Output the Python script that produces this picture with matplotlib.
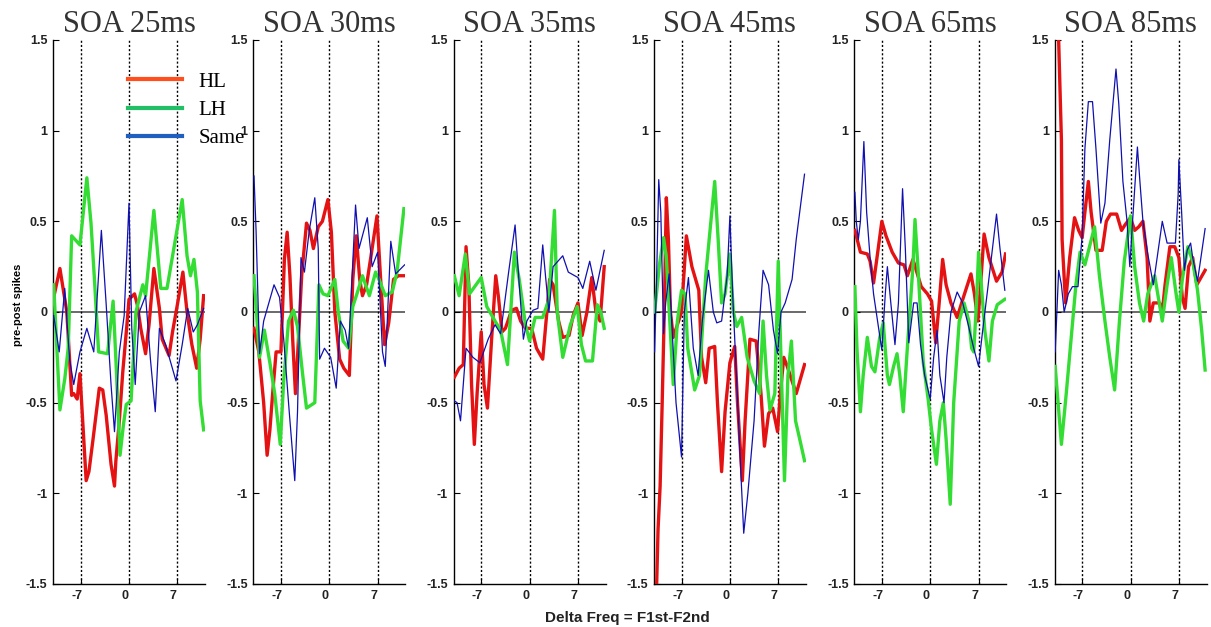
import matplotlib
matplotlib.use('Agg')
import matplotlib.pyplot as plt
import matplotlib.transforms as mtransforms
from matplotlib.lines import Line2D

# ---- data ----
soa_labels = ['SOA 25ms', 'SOA 30ms', 'SOA 35ms', 'SOA 45ms', 'SOA 65ms', 'SOA 85ms']
series_names = ['HL', 'LH', 'Same']
x_ticks = [-7, 0, 7]
y_ticks = [-1.5, -1, -0.5, 0, 0.5, 1, 1.5]
y_ticklabels = ['-1.5', '-1', '-0.5', '0', '0.5', '1', '1.5']
ref_lines = [-7, 0, 7]

# SOA 25ms
hl25_x = [-10.9, -10.0, -9.0, -8.3, -8.0, -7.5, -7.1, -6.2, -5.8, -5.2, -4.3, -3.8, -3.3, -2.6, -2.1,
          -1.9, -1.4, -0.9, -0.3, 0.0, 0.8, 1.2, 1.7, 2.4, 2.9, 3.6, 4.4, 4.8, 5.8, 6.3, 7.0, 7.8,
          8.4, 9.1, 9.8, 10.3, 10.8]
hl25_y = [0.08, 0.24, 0.0, -0.46, -0.45, -0.48, -0.34, -0.93, -0.88, -0.70, -0.42, -0.43, -0.57, -0.84,
          -0.96, -0.82, -0.60, -0.33, -0.07, 0.07, 0.10, 0.04, -0.09, -0.23, -0.07, 0.24, 0.02, -0.15,
          -0.24, -0.11, 0.04, 0.22, 0.0, -0.18, -0.31, -0.15, 0.09]
lh25_x = [-10.9, -10.0, -9.3, -8.8, -8.3, -7.1, -6.1, -5.5, -5.0, -4.4, -3.1, -2.3, -1.9, -1.3, -0.8,
          -0.4, 0.3, 1.0, 2.0, 2.4, 3.6, 4.6, 5.5, 7.7, 8.4, 8.9, 9.4, 9.9, 10.3, 10.8]
lh25_y = [0.15, -0.54, -0.37, -0.20, 0.42, 0.37, 0.74, 0.49, 0.18, -0.22, -0.23, 0.06, -0.26, -0.79,
          -0.62, -0.51, -0.49, 0.0, 0.15, 0.09, 0.56, 0.13, 0.13, 0.62, 0.31, 0.20, 0.29, 0.11, -0.49, -0.65]
same25_x = [-10.9, -10.1, -9.3, -8.6, -8.0, -7.1, -6.1, -5.1, -4.0, -3.3, -2.6, -2.1, -1.4, -0.7, 0.0,
            0.4, 0.9, 1.5, 2.4, 3.1, 3.8, 4.4, 5.3, 6.8, 7.7, 8.5, 9.3, 9.9, 10.8]
same25_y = [-0.02, -0.22, 0.13, -0.26, -0.40, -0.22, -0.09, -0.22, 0.45, 0.04, -0.40, -0.66, -0.22, -0.02,
            0.60, -0.09, -0.40, 0.0, 0.09, -0.26, -0.55, -0.09, -0.18, -0.38, -0.18, 0.02, -0.11, -0.07, 0.02]

# SOA 30ms
hl30_x = [-10.9, -10.2, -9.5, -9.0, -8.6, -8.2, -7.7, -7.0, -6.5, -6.1, -5.7, -5.3, -4.9, -4.6, -4.0,
          -3.3, -2.8, -2.3, -1.6, -1.0, -0.2, 0.3, 0.8, 1.5, 2.1, 2.9, 3.4, 3.9, 4.4, 4.8, 5.4, 6.0,
          6.9, 7.4, 8.0, 8.6, 9.3, 10.0, 10.9]
hl30_y = [-0.09, -0.22, -0.50, -0.79, -0.65, -0.45, -0.22, -0.22, 0.29, 0.44, 0.20, -0.15, -0.45, -0.25,
          0.20, 0.49, 0.45, 0.35, 0.47, 0.50, 0.62, 0.44, 0.0, -0.26, -0.31, -0.35, 0.18, 0.42, 0.18,
          0.09, 0.15, 0.30, 0.53, 0.20, -0.18, -0.06, 0.18, 0.20, 0.20]
lh30_x = [-10.9, -10.1, -9.4, -8.6, -7.9, -7.1, -6.6, -5.9, -5.2, -4.6, -3.9, -3.3, -2.1, -1.5, -0.9,
          -0.2, 0.8, 1.3, 2.0, 2.8, 3.4, 4.0, 4.8, 5.8, 6.7, 7.2, 8.1, 9.1, 9.8, 10.8]
lh30_y = [0.20, -0.25, -0.10, -0.28, -0.45, -0.73, -0.38, -0.05, 0.01, -0.08, -0.33, -0.53, -0.50, 0.15,
          0.10, 0.09, 0.18, 0.0, -0.16, -0.20, 0.03, 0.10, 0.20, 0.09, 0.22, 0.18, 0.09, 0.11, 0.22, 0.57]
same30_x = [-10.9, -10.6, -10.1, -9.5, -8.0, -7.2, -6.6, -5.8, -5.0, -4.6, -4.1, -3.6, -2.9, -2.1, -1.6,
            -1.4, -0.7, 0.2, 1.0, 1.6, 2.3, 2.8, 3.8, 4.3, 5.5, 6.2, 7.0, 7.7, 8.1, 8.9, 9.6, 10.9]
same30_y = [0.75, 0.45, -0.23, -0.05, 0.15, 0.08, -0.15, -0.55, -0.93, -0.55, 0.30, 0.22, 0.45, 0.63, 0.35,
            -0.26, -0.20, -0.25, -0.42, -0.05, -0.10, -0.20, 0.59, 0.35, 0.52, 0.25, 0.33, -0.22, -0.30,
            0.39, 0.21, 0.26]

# SOA 35ms
hl35_x = [-10.9, -10.2, -9.6, -9.2, -8.8, -8.4, -8.0, -7.6, -7.0, -6.6, -6.1, -5.5, -4.9, -4.5, -4.0,
          -3.5, -2.6, -1.9, -1.3, -0.6, 0.3, 1.0, 1.9, 2.5, 2.9, 3.4, 4.2, 4.8, 5.7, 6.3, 7.0, 7.6,
          8.3, 9.0, 9.6, 10.2, 10.8]
hl35_y = [-0.36, -0.31, -0.29, 0.36, 0.15, -0.40, -0.73, -0.45, -0.11, -0.40, -0.53, -0.15, 0.20, 0.08,
          -0.11, -0.09, 0.01, 0.02, -0.05, -0.09, -0.09, -0.20, -0.26, 0.0, 0.18, 0.15, -0.05, -0.14,
          -0.13, -0.02, 0.05, -0.13, 0.0, 0.19, 0.0, -0.05, 0.25]
lh35_x = [-10.9, -10.2, -9.3, -8.7, -7.0, -6.2, -5.0, -4.2, -3.2, -2.2, -1.5, -0.6, 0.0, 0.8, 1.9, 2.8,
          3.6, 4.0, 4.8, 5.9, 6.9, 7.5, 8.1, 9.1, 9.8, 10.3, 10.8]
lh35_y = [0.20, 0.09, 0.32, 0.10, 0.19, 0.03, -0.05, -0.10, -0.29, 0.33, 0.18, -0.07, -0.16, -0.03,
          -0.03, 0.07, 0.56, 0.0, -0.25, -0.07, 0.03, -0.18, -0.27, -0.27, 0.04, 0.0, -0.09]
same35_x = [-10.9, -10.5, -10.0, -9.2, -8.2, -7.2, -6.0, -5.0, -4.2, -3.0, -2.1, -1.5, -0.9, -0.4, 0.5,
            1.2, 1.9, 2.3, 2.8, 3.4, 4.8, 5.6, 7.0, 7.7, 8.7, 9.6, 10.8]
same35_y = [-0.49, -0.50, -0.60, -0.20, -0.25, -0.28, -0.15, -0.07, -0.12, 0.23, 0.48, 0.15, -0.15, -0.05,
            0.01, 0.02, 0.37, 0.20, 0.0, 0.25, 0.31, 0.22, 0.19, 0.13, 0.28, 0.12, 0.34]

# SOA 45ms
hl45_x = [-10.6, -10.4, -10.1, -9.8, -9.5, -9.2, -8.9, -8.6, -8.2, -7.0, -6.3, -5.5, -4.5, -4.1, -3.5,
          -3.0, -2.2, -1.8, -1.2, -0.7, 0.0, 0.7, 1.1, 1.8, 2.2, 2.9, 3.8, 4.5, 5.0, 5.6, 6.2, 6.9,
          7.3, 7.8, 8.3, 9.6, 10.8]
hl45_y = [-1.5, -1.2, -0.96, -0.50, 0.0, 0.63, 0.40, 0.0, -0.14, 0.0, 0.42, 0.25, 0.12, -0.25, -0.39,
          -0.20, -0.19, -0.50, -0.88, -0.55, -0.28, -0.19, -0.50, -0.93, -0.60, -0.15, -0.16, -0.45,
          -0.74, -0.56, -0.53, -0.66, -0.45, -0.25, -0.30, -0.45, -0.29]
lh45_x = [-10.9, -10.2, -9.6, -9.2, -8.7, -8.2, -7.6, -7.0, -6.5, -6.1, -5.1, -4.4, -3.5, -2.2, -1.7,
          -1.2, -0.7, 0.0, 0.5, 1.0, 1.7, 2.5, 3.5, 4.3, 4.8, 5.3, 5.8, 6.5, 7.0, 7.5, 7.9, 8.4, 8.9,
          9.5, 10.1, 10.8]
lh45_y = [0.0, 0.26, 0.41, 0.30, -0.05, -0.40, -0.05, 0.12, 0.10, -0.20, -0.43, -0.35, 0.20, 0.72, 0.40,
          0.05, 0.10, 0.32, 0.0, -0.08, -0.03, -0.25, -0.38, -0.45, -0.05, -0.35, -0.54, -0.45, 0.28,
          -0.40, -0.93, -0.35, -0.16, -0.60, -0.70, -0.82]
same45_x = [-10.9, -10.6, -10.3, -10.0, -9.6, -9.3, -8.8, -8.5, -7.8, -7.0, -6.6, -6.0, -5.3, -4.6, -4.0,
            -3.1, -2.4, -1.9, -1.2, -0.4, 0.0, 0.4, 1.0, 1.6, 2.0, 2.6, 3.5, 4.2, 4.8, 5.6, 6.3, 6.9,
            7.4, 8.0, 9.0, 9.6, 10.8]
same45_y = [-0.22, 0.20, 0.73, 0.55, -0.12, 0.05, 0.21, 0.0, -0.50, -0.80, 0.0, 0.19, -0.20, -0.35, -0.05,
            0.23, 0.0, -0.06, -0.05, 0.20, 0.53, 0.10, -0.40, -0.90, -1.22, -1.0, -0.60, -0.10, 0.23,
            0.15, -0.10, -0.23, 0.0, 0.05, 0.18, 0.40, 0.76]

# SOA 65ms
hl65_x = [-10.9, -10.1, -9.1, -8.7, -8.2, -7.7, -7.0, -6.4, -5.5, -4.6, -3.8, -3.3, -2.5, -2.1, -1.3,
          -0.4, 0.2, 0.8, 1.3, 1.8, 2.3, 3.0, 3.9, 4.8, 5.9, 6.4, 6.9, 7.2, 7.8, 8.5, 9.6, 10.4, 10.9]
hl65_y = [0.45, 0.33, 0.32, 0.28, 0.16, 0.30, 0.50, 0.42, 0.33, 0.27, 0.26, 0.20, 0.29, 0.24, 0.14, 0.10,
          0.06, -0.17, 0.05, 0.29, 0.15, 0.05, -0.03, 0.08, 0.21, 0.10, -0.05, 0.10, 0.43, 0.30, 0.17,
          0.22, 0.32]
lh65_x = [-10.9, -10.6, -10.1, -9.7, -9.1, -8.5, -8.0, -7.3, -6.8, -6.2, -5.9, -5.3, -4.8, -4.4, -3.9,
          -3.4, -2.5, -2.2, -1.7, -1.0, -0.3, 0.2, 0.9, 1.4, 1.9, 2.3, 2.9, 3.4, 4.2, 4.9, 5.6, 6.0,
          6.3, 6.7, 7.0, 7.4, 7.9, 8.5, 9.0, 9.7, 10.8]
lh65_y = [0.14, -0.20, -0.55, -0.35, -0.14, -0.30, -0.33, -0.14, -0.06, -0.35, -0.40, -0.30, -0.23, -0.35,
          -0.55, -0.25, 0.25, 0.51, 0.20, -0.28, -0.48, -0.65, -0.84, -0.60, -0.50, -0.70, -1.06, -0.50,
          -0.05, 0.05, -0.05, -0.20, -0.22, 0.05, 0.33, 0.15, -0.10, -0.27, -0.05, 0.04, 0.07]
same65_x = [-10.9, -10.7, -10.4, -10.1, -9.6, -9.2, -8.7, -8.2, -7.0, -6.5, -6.2, -5.7, -5.1, -4.6, -4.0,
            -3.6, -3.1, -2.4, -1.9, -1.4, -0.8, 0.0, 0.5, 1.0, 1.4, 2.0, 2.4, 3.0, 3.9, 4.7, 5.5, 6.3,
            7.0, 7.6, 8.3, 9.6, 10.1, 10.8]
same65_y = [0.66, 0.50, 0.40, 0.50, 0.94, 0.55, 0.30, 0.10, -0.21, 0.10, 0.25, 0.05, -0.18, 0.05, 0.68,
            0.35, -0.17, 0.05, 0.05, -0.18, -0.35, -0.48, -0.25, -0.10, -0.35, -0.50, -0.25, 0.0, 0.11,
            0.05, -0.07, -0.20, -0.30, -0.10, 0.12, 0.54, 0.35, 0.12]

# SOA 85ms
hl85_x = [-10.4, -10.0, -9.9, -9.4, -8.8, -8.1, -7.5, -7.0, -6.6, -6.1, -5.7, -5.0, -4.1, -3.5, -2.9,
          -2.0, -1.3, -0.8, 0.0, 0.6, 1.2, 1.8, 2.4, 2.8, 3.3, 4.2, 4.6, 5.0, 5.7, 6.4, 7.0, 7.5, 7.9,
          8.4, 9.0, 9.6, 10.8]
hl85_y = [1.50, 0.95, 0.40, 0.05, 0.30, 0.52, 0.45, 0.41, 0.55, 0.72, 0.55, 0.34, 0.34, 0.50, 0.54, 0.54,
          0.45, 0.48, 0.52, 0.45, 0.47, 0.50, 0.30, -0.05, 0.05, 0.05, 0.0, 0.15, 0.36, 0.36, 0.30,
          0.08, 0.02, 0.25, 0.30, 0.15, 0.23]
lh85_x = [-10.9, -10.0, -9.3, -8.6, -7.9, -7.3, -6.6, -6.0, -5.2, -4.5, -3.7, -3.0, -2.3, -1.6, -0.9,
          0.0, 0.6, 1.3, 1.9, 2.5, 3.5, 4.6, 5.3, 5.9, 6.6, 7.0, 7.5, 8.3, 9.0, 9.7, 10.3, 10.8]
lh85_y = [-0.30, -0.73, -0.45, -0.15, 0.15, 0.33, 0.26, 0.35, 0.47, 0.20, -0.05, -0.25, -0.43, -0.05, 0.28,
          0.53, 0.25, 0.05, -0.05, 0.10, 0.20, -0.05, 0.15, 0.30, 0.10, 0.0, 0.18, 0.36, 0.28, 0.12,
          -0.10, -0.32]
same85_x = [-10.9, -10.4, -10.0, -9.6, -9.0, -8.4, -7.6, -7.0, -6.6, -6.1, -5.5, -5.0, -4.3, -3.7, -3.0,
            -2.1, -1.7, -1.1, -0.5, -0.1, 0.3, 1.0, 1.4, 1.8, 2.5, 3.3, 4.6, 5.3, 6.5, 6.9, 7.0, 7.4,
            7.8, 8.2, 8.7, 9.0, 9.7, 10.8]
same85_y = [-0.22, 0.23, 0.15, 0.0, 0.10, 0.14, 0.14, 0.42, 0.90, 1.16, 1.16, 0.90, 0.49, 0.60, 0.95, 1.34,
            1.15, 0.72, 0.50, 0.25, 0.50, 0.91, 0.70, 0.50, 0.32, 0.15, 0.50, 0.38, 0.38, 0.65, 0.84,
            0.55, 0.23, 0.34, 0.38, 0.30, 0.17, 0.46]

panels = [
    (hl25_x, hl25_y, lh25_x, lh25_y, same25_x, same25_y),
    (hl30_x, hl30_y, lh30_x, lh30_y, same30_x, same30_y),
    (hl35_x, hl35_y, lh35_x, lh35_y, same35_x, same35_y),
    (hl45_x, hl45_y, lh45_x, lh45_y, same45_x, same45_y),
    (hl65_x, hl65_y, lh65_x, lh65_y, same65_x, same65_y),
    (hl85_x, hl85_y, lh85_x, lh85_y, same85_x, same85_y),
]

# ---- styling ----
W, H = 1211, 627
red, green, blue = '#e41212', '#33dd33', '#1010b0'
legend_colors = ['#ff4f1f', '#22bf66', '#1f5fbf']
serif = ['Liberation Serif', 'DejaVu Serif']
sans = ['Liberation Sans', 'DejaVu Sans']

fig = plt.figure(figsize=(W / 100, H / 100), dpi=100)

ax_bottom = (H - 584) / H
ax_height = 544 / H
ax_width = 152 / W

for k, (hx, hy, lx, ly, sx, sy) in enumerate(panels):
    ax = fig.add_axes([(53 + 200.3 * k) / W, ax_bottom, ax_width, ax_height])
    ax.axhline(0, color='#505050', lw=1.2, zorder=1)
    for xv in ref_lines:
        ax.axvline(xv, color='black', lw=1.0, ls=(0, (1.5, 1.5)), zorder=1)
    ax.plot(hx, hy, color=red, lw=2.4, zorder=3)
    ax.plot(lx, ly, color=green, lw=2.4, zorder=3)
    ax.plot(sx, sy, color=blue, lw=0.9, zorder=4)

    ax.set_xlim(-11, 11)
    ax.set_ylim(-1.5, 1.5)
    ax.set_xticks(x_ticks)
    ax.set_xticklabels([str(t) for t in x_ticks])
    ax.set_yticks(y_ticks)
    ax.set_yticklabels(y_ticklabels)
    ax.tick_params(direction='in', length=4, width=0.8, labelsize=9, pad=4)
    for lab in ax.get_xticklabels() + ax.get_yticklabels():
        lab.set_family(sans)
        lab.set_fontweight('bold')
        lab.set_color('#222222')
    shift = mtransforms.ScaledTranslation(-4 / 100, 0, fig.dpi_scale_trans)
    for lab in ax.get_xticklabels():
        lab.set_transform(lab.get_transform() + shift)
    for side in ['top', 'right']:
        ax.spines[side].set_visible(False)
    for side in ['left', 'bottom']:
        ax.spines[side].set_linewidth(1.0)
    ax.set_title(soa_labels[k], family=serif, fontsize=22, pad=6, color='#333333')

handles = [Line2D([], [], color=c, lw=3) for c in legend_colors]
fig.legend(handles, series_names, loc='upper left', bbox_to_anchor=(128 / W, 1 - 72 / H),
           frameon=False, borderpad=0, borderaxespad=0, handlelength=2.6, handletextpad=0.8,
           labelspacing=0.42, prop={'family': serif, 'size': 15})

fig.text(18 / W, 1 - 305 / H, 'pre-post spikes', rotation=90, ha='center', va='center',
         family=['Liberation Sans Narrow'] + sans, fontweight='bold', fontsize=8)
fig.text(627 / W, 1 - 618 / H, 'Delta Freq = F1st-F2nd', ha='center', va='center',
         family=sans, fontweight='bold', fontsize=11, color='#222222')

fig.savefig('out.png', dpi=100)
